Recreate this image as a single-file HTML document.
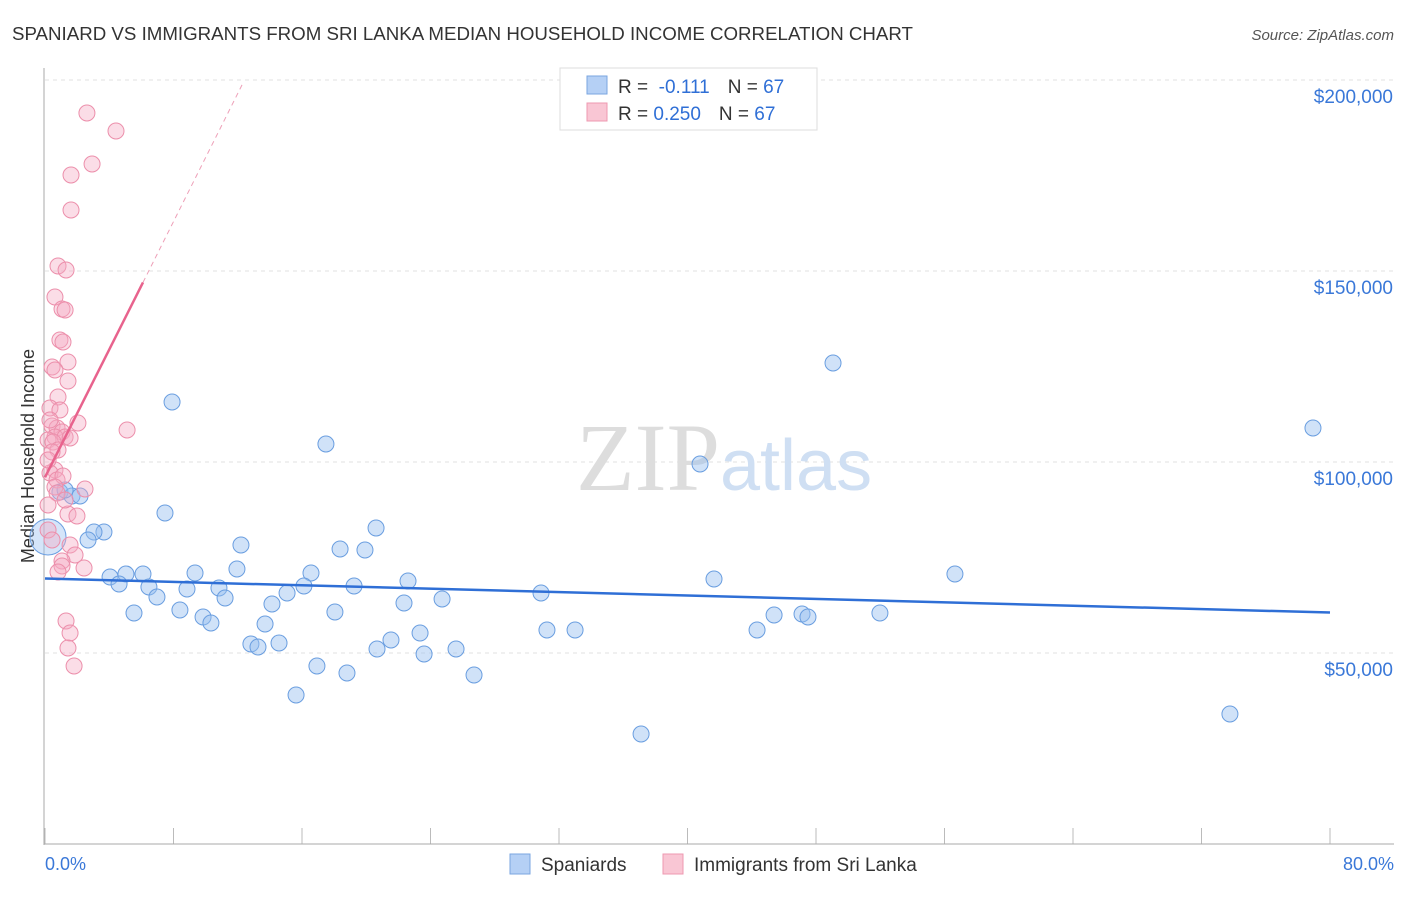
<!DOCTYPE html>
<html><head><meta charset="utf-8"><style>
body{margin:0;background:#fff;font-family:"Liberation Sans",sans-serif}
</style></head><body>
<svg width="1406" height="892" xmlns="http://www.w3.org/2000/svg">
<text x="12" y="40" font-size="18" fill="#333" textLength="901" lengthAdjust="spacingAndGlyphs">SPANIARD VS IMMIGRANTS FROM SRI LANKA MEDIAN HOUSEHOLD INCOME CORRELATION CHART</text>
<text x="1394" y="40" font-size="15" fill="#555" text-anchor="end" font-style="italic">Source: ZipAtlas.com</text>
<g id="grid"></g>
<text x="720" y="490" font-size="96" fill="#ddd" text-anchor="end" font-family="Liberation Serif,serif">ZIP</text>
<text x="720" y="490" font-size="72" fill="#cfdff3">atlas</text>
<line x1="44" y1="68" x2="44" y2="845" stroke="#aaa"/>
<line x1="44" y1="844" x2="1394" y2="844" stroke="#aaa"/>
<text transform="translate(34,456) rotate(-90)" font-size="18" fill="#333" text-anchor="middle">Median Household Income</text>
<text x="45" y="870" font-size="18" fill="#3a78d8">0.0%</text>
<text x="1394" y="870" font-size="18" fill="#3a78d8" text-anchor="end">80.0%</text>
<g id="pts"></g>
<g id="lines"></g>
<rect x="560" y="68" width="257" height="62" fill="#fff" stroke="#ddd"/>
<rect x="587" y="76" width="20" height="18" fill="#b5d0f5" stroke="#7aa6e0"/>
<rect x="587" y="103" width="20" height="18" fill="#f9c6d4" stroke="#ee98b0"/>
<text x="618" y="93" font-size="19" fill="#333">R = <tspan fill="#2f6fd6">&#160;-0.111</tspan><tspan dx="18">N = </tspan><tspan fill="#2f6fd6">67</tspan></text>
<text x="618" y="120" font-size="19" fill="#333">R = <tspan fill="#2f6fd6">0.250</tspan><tspan dx="18">N = </tspan><tspan fill="#2f6fd6">67</tspan></text>
<rect x="510" y="854" width="20" height="20" fill="#b5d0f5" stroke="#7aa6e0"/>
<text x="541" y="871" font-size="19" fill="#333">Spaniards</text>
<rect x="663" y="854" width="20" height="20" fill="#f9c6d4" stroke="#ee98b0"/>
<text x="694" y="871" font-size="19" fill="#333">Immigrants from Sri Lanka</text>
</svg>
<script>
const yTicks=[50000,100000,150000,200000];
const yTickLabels=["$50,000","$100,000","$150,000","$200,000"];
const xTicks=[0,8,16,24,32,40,48,56,64,72,80];
const bluePx=[[172,402],[326,444],[833,363],[1313,428],[700,464],[165,513],[376,528],[104,532],[94,532],[88,540],[241,545],[340,549],[365,550],[237,569],[955,574],[714,579],[110,577],[126,574],[143,574],[195,573],[311,573],[119,584],[149,587],[408,581],[187,589],[219,588],[304,586],[354,586],[157,597],[225,598],[287,593],[541,593],[442,599],[272,604],[404,603],[180,610],[134,613],[203,617],[335,612],[774,615],[802,614],[808,617],[880,613],[211,623],[265,624],[547,630],[575,630],[757,630],[420,633],[251,644],[258,647],[279,643],[391,640],[377,649],[424,654],[456,649],[317,666],[347,673],[474,675],[296,695],[641,734],[1230,714],[60,492],[72,496],[80,496],[65,490]];
const pinkPx=[[87,113],[116,131],[92,164],[71,175],[71,210],[58,266],[66,270],[55,297],[62,309],[65,310],[60,340],[63,342],[68,362],[52,367],[55,370],[68,381],[58,397],[50,408],[60,410],[78,423],[127,430],[52,426],[57,428],[62,432],[55,437],[65,437],[70,438],[48,440],[53,442],[58,450],[52,452],[55,470],[50,473],[57,480],[63,476],[55,487],[85,489],[57,493],[48,505],[68,514],[77,516],[48,530],[52,540],[70,545],[75,555],[62,561],[62,566],[58,572],[84,568],[66,621],[70,633],[68,648],[74,666],[50,420],[48,460],[65,500]];
const blueX=bluePx.map(p=>+((p[0]-45)*80/1285).toFixed(2));
const blueY=bluePx.map(p=>Math.round(50000+(653-p[1])*50000/191));
const pinkX=pinkPx.map(p=>+((p[0]-45)*80/1285).toFixed(2));
const pinkY=pinkPx.map(p=>Math.round(50000+(653-p[1])*50000/191));
const blueTrend=[[0,69500],[80,60600]];
const pinkTrend=[[0,96000],[6.1,147000],[12.3,199000]];
const xs=v=>45+v*1285/80, ys=v=>653-(v-50000)*191/50000;
const NS="http://www.w3.org/2000/svg";
function mk(t,a,parent){const e=document.createElementNS(NS,t);for(const k in a)e.setAttribute(k,a[k]);document.getElementById(parent).appendChild(e);return e;}
yTicks.forEach((v,i)=>{
 const l=mk('line',{x1:45,x2:1394,y1:ys(v),y2:ys(v),stroke:'#e2e2e2','stroke-dasharray':'4,4'},'grid');
 
 
 const t=mk('text',{x:1393,y:ys(v)+23,'font-size':19,fill:'#3a78d8','text-anchor':'end'},'grid');t.textContent=yTickLabels[i];
 
 
});
xTicks.forEach(v=>{const l=mk('line',{x1:xs(v),x2:xs(v),y1:828,y2:844,stroke:'#bbb'},'grid');
 
 });
blueX.forEach((x,i)=>{const c=mk('circle',{cx:xs(x),cy:ys(blueY[i]),r:8,fill:'rgba(150,190,240,0.45)',stroke:'#6a9ee0','stroke-width':1},'pts');
 
 });
const big=mk('circle',{cx:48,cy:537,r:18,fill:'rgba(150,190,240,0.4)',stroke:'#6a9ee0'},'pts');


pinkX.forEach((x,i)=>{const c=mk('circle',{cx:xs(x),cy:ys(pinkY[i]),r:8,fill:'rgba(245,170,195,0.4)',stroke:'#ec8fab','stroke-width':1},'pts');
 
 });
const bl=mk('line',{x1:xs(blueTrend[0][0]),y1:ys(blueTrend[0][1]),x2:xs(blueTrend[1][0]),y2:ys(blueTrend[1][1]),stroke:'#2f6fd6','stroke-width':2.5},'lines');


const pl=mk('line',{x1:xs(pinkTrend[0][0]),y1:ys(pinkTrend[0][1]),x2:xs(pinkTrend[1][0]),y2:ys(pinkTrend[1][1]),stroke:'#e8638d','stroke-width':2.5},'lines');


const pd=mk('line',{x1:xs(pinkTrend[1][0]),y1:ys(pinkTrend[1][1]),x2:xs(pinkTrend[2][0]),y2:ys(pinkTrend[2][1]),stroke:'#eea0b8','stroke-width':1,'stroke-dasharray':'5,4'},'lines');


</script>
</body></html>
